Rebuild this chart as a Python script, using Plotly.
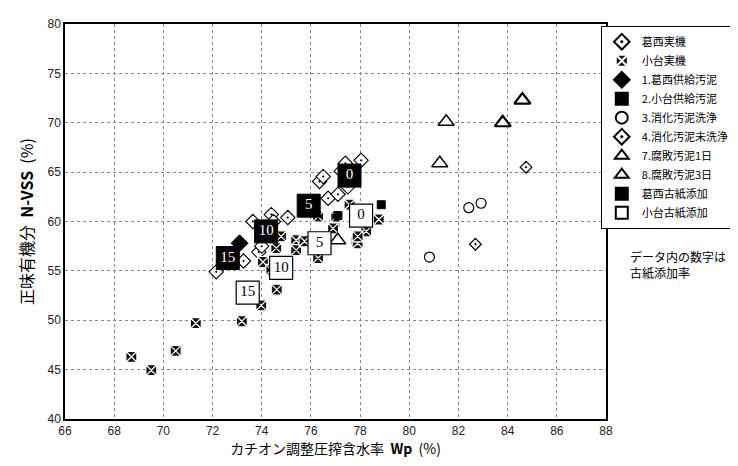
import plotly.graph_objects as go

# --- data ---
kasai_x = [72.15, 73.26, 73.88, 74.0, 73.64, 74.39, 74.48, 75.06, 76.35, 76.5, 76.7, 77.1, 77.5, 77.23, 77.4, 78.04]
kasai_y = [54.9, 56.0, 56.9, 57.5, 60.0, 60.7, 60.0, 60.4, 64.05, 64.55, 62.35, 62.75, 63.5, 65.1, 65.9, 66.2]

kodai_x = [68.70, 69.51, 70.50, 71.32, 73.19, 73.98, 74.61, 74.05, 74.39, 74.59, 74.79, 75.4, 75.4, 75.81,
           76.29, 76.29, 76.96, 76.9, 77.03, 77.57, 77.84, 77.9, 78.25, 78.76, 75.74, 77.9]
kodai_y = [46.3, 44.94, 46.9, 49.7, 49.9, 51.5, 53.1, 55.9, 55.1, 57.3, 58.5, 58.1, 57.1, 57.96,
           56.3, 60.5, 59.8, 59.3, 60.5, 61.7, 58.1, 57.8, 59.0, 60.2, 58.0, 58.5]

s1_x = [73.1]
s1_y = [57.8]
s2_x = [78.86, 77.1]
s2_y = [61.7, 60.6]
s3_x = [82.42, 82.92, 80.82]
s3_y = [61.4, 61.85, 56.4]
s4_x = [84.75, 82.69]
s4_y = [65.5, 57.7]
s7_x = [81.24, 81.5, 77.09]
s7_y = [65.9, 70.1, 58.1]
s8_x = [83.8, 84.6]
s8_y = [70.0, 72.3]

kasai_paper_x = [72.62, 74.18, 75.91, 77.57]
kasai_paper_y = [56.3, 59.0, 61.6, 64.65]
kasai_paper_rate = ["15", "10", "5", "0"]
kodai_paper_x = [73.43, 74.79, 76.35, 78.04]
kodai_paper_y = [52.8, 55.3, 57.8, 60.6]
kodai_paper_rate = ["15", "10", "5", "0"]

x_ticks = [66, 68, 70, 72, 74, 76, 78, 80, 82, 84, 86, 88]
y_ticks = [40, 45, 50, 55, 60, 65, 70, 75, 80]

JP = "Noto Sans CJK JP"

fig = go.Figure()

fig.add_trace(go.Scatter(x=kasai_x, y=kasai_y, mode="markers", name="葛西実機",
                         marker=dict(symbol="diamond-dot", size=11, color="white",
                                     line=dict(color="black", width=1.1))))
fig.add_trace(go.Scatter(x=kodai_x, y=kodai_y, mode="markers", name="小台実機",
                         marker=dict(symbol="square-x", size=11, color="#111",
                                     line=dict(color="white", width=1.2))))
fig.add_trace(go.Scatter(x=s1_x, y=s1_y, mode="markers", name="1.葛西供給汚泥",
                         marker=dict(symbol="diamond", size=13, color="black",
                                     line=dict(color="black", width=1))))
fig.add_trace(go.Scatter(x=s2_x, y=s2_y, mode="markers", name="2.小台供給汚泥",
                         marker=dict(symbol="square", size=8, color="black",
                                     line=dict(color="black", width=1))))
fig.add_trace(go.Scatter(x=s3_x, y=s3_y, mode="markers", name="3.消化汚泥洗浄",
                         marker=dict(symbol="circle-open", size=10, color="black",
                                     line=dict(color="black", width=1.2))))
fig.add_trace(go.Scatter(x=s4_x, y=s4_y, mode="markers", name="4.消化汚泥未洗浄",
                         marker=dict(symbol="diamond-dot", size=9, color="white",
                                     line=dict(color="black", width=1.2))))
fig.add_trace(go.Scatter(x=s7_x, y=s7_y, mode="markers", name="7.腐敗汚泥1日",
                         marker=dict(symbol="triangle-up", size=14, color="white",
                                     line=dict(color="black", width=1.4))))
fig.add_trace(go.Scatter(x=s8_x, y=s8_y, mode="markers", name="8.腐敗汚泥3日",
                         marker=dict(symbol="triangle-up", size=14, color="white",
                                     line=dict(color="black", width=2.2))))
fig.add_trace(go.Scatter(x=kasai_paper_x, y=kasai_paper_y, mode="markers", name="葛西古紙添加",
                         marker=dict(symbol="square", size=23, color="black",
                                     line=dict(color="black", width=1))))
fig.add_trace(go.Scatter(x=kodai_paper_x, y=kodai_paper_y, mode="markers", name="小台古紙添加",
                         marker=dict(symbol="square", size=23, color="white",
                                     line=dict(color="black", width=1.2))))
fig.add_trace(go.Scatter(x=kasai_paper_x, y=kasai_paper_y, mode="text", text=kasai_paper_rate,
                         textfont=dict(family="Liberation Serif", size=15, color="white"),
                         showlegend=False, hoverinfo="skip"))
fig.add_trace(go.Scatter(x=kodai_paper_x, y=kodai_paper_y, mode="text", text=kodai_paper_rate,
                         textfont=dict(family="Liberation Serif", size=15, color="black"),
                         showlegend=False, hoverinfo="skip"))

grid = dict(showgrid=True, gridcolor="#888", gridwidth=1, griddash="dot",
            showline=True, linecolor="black", linewidth=1.5, mirror=True,
            ticks="", zeroline=False,
            tickfont=dict(family="Liberation Sans", size=12, color="#222"))

fig.update_xaxes(range=[66, 88], tickvals=x_ticks, **grid,
                 title=dict(text="カチオン調整圧搾含水率  <b>Wp</b>  (%)",
                            font=dict(family=JP, size=14, color="black"), standoff=6))
fig.update_yaxes(range=[40, 80], tickvals=y_ticks, **grid,
                 title=dict(text="正味有機分  <b>N-VSS</b>  (%)",
                            font=dict(family=JP, size=16, color="black"), standoff=10))

fig.add_annotation(xref="paper", yref="paper", x=1.04, y=0.39, xanchor="left", yanchor="middle",
                   text="データ内の数字は<br>古紙添加率", showarrow=False, align="left",
                   font=dict(family=JP, size=12, color="black"))

fig.update_layout(
    width=738, height=466,
    margin=dict(l=57, r=140, t=16, b=55, autoexpand=False),
    paper_bgcolor="white", plot_bgcolor="white",
    font=dict(family=JP, color="black"),
    legend=dict(x=0.99, y=0.995, xanchor="left", yanchor="top",
                bordercolor="black", borderwidth=1.2, bgcolor="white",
                font=dict(family=JP, size=11, color="black"),
                itemsizing="constant", tracegroupgap=0, itemwidth=30),
)

fig.write_html("out.html")
